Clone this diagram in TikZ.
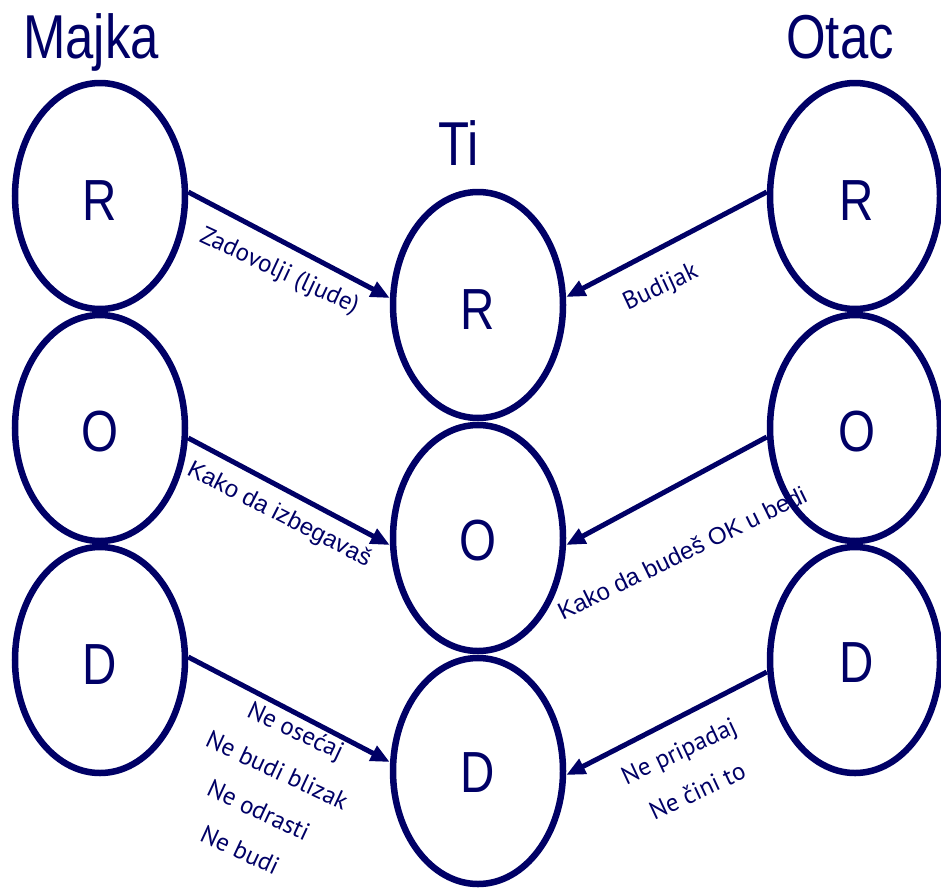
\documentclass[tikz,border=0pt]{standalone}
\usepackage{fontspec}
\setmainfont{Liberation Sans}
\newfontfamily\titlefont[FakeStretch=0.82]{Liberation Sans}
\newfontfamily\humfont{PT Sans}
\usetikzlibrary{shapes.geometric,arrows.meta}
\definecolor{navy}{RGB}{0,0,102}
\begin{document}
\begin{tikzpicture}[x=1pt,y=-1pt,
  ell/.style={ellipse,draw=navy,line width=6.5pt,minimum width=170pt,minimum height=226pt,inner sep=0pt},
  letter/.style={text=navy,font=\titlefont\fontsize{58}{60}\selectfont},
  title/.style={text=navy,font=\titlefont\fontsize{62}{64}\selectfont,anchor=base},
  arr/.style={draw=navy,line width=5pt,-{Triangle[length=19pt,width=16pt]}},
  lab/.style={text=navy,font=\humfont\fontsize{25}{44}\selectfont,align=center,inner sep=0pt},
  labA/.style={text=navy,font=\fontsize{24}{28}\selectfont,inner sep=0pt}]
\useasboundingbox (0,0) rectangle (941,889);
% ellipses
\node[ell] (lR) at (100,196) {};
\node[ell] (lO) at (100,428) {};
\node[ell] (lD) at (100,660) {};
\node[ell] (mR) at (478,305) {};
\node[ell] (mO) at (478,538) {};
\node[ell] (mD) at (478,771) {};
\node[ell] (rR) at (855,196) {};
\node[ell] (rO) at (855,428) {};
\node[ell] (rD) at (855,660) {};
% letters
\node[letter] (tlR) at (100,201) {R};
\node[letter] (tlO) at (100,432) {O};
\node[letter] (tlD) at (100,665) {D};
\node[letter] (tmR) at (478,310) {R};
\node[letter] (tmO) at (478,541) {O};
\node[letter] (tmD) at (478,773) {D};
\node[letter] (trR) at (857,201) {R};
\node[letter] (trO) at (857,432) {O};
\node[letter] (trD) at (857,663) {D};
% titles
\node[title] (majka) at (91,58) {Majka};
\node[title] (otac) at (840,58) {Otac};
\node[title] (ti) at (459,165) {Ti};
% arrows
\draw[arr] ([yshift=4pt]lR.east) -- ([yshift=7pt]mR.west);
\draw[arr] ([yshift=-10pt]lO.east) -- ([yshift=-7pt]mO.west);
\draw[arr] ([yshift=3pt]lD.east) -- ([yshift=9pt]mD.west);
\draw[arr] ([yshift=4pt]rR.west) -- ([yshift=8pt]mR.east);
\draw[arr] ([yshift=-9pt]rO.west) -- ([yshift=-7pt]mO.east);
\draw[arr] ([yshift=-12pt]rD.west) -- ([yshift=-4pt]mD.east);
% labels
\node[lab,rotate=-25] (l1) at (279,272) {Zadovolji (ljude)};
\node[lab,rotate=25] (l2) at (661,288) {Budijak};
\node[labA,rotate=-27] (l3) at (279,515) {Kako da izbegavaš};
\node[labA,rotate=26] (l4) at (682,553) {Kako da budeš OK u bedi};
\node[lab,rotate=-25] (l5) at (268,790) {Ne osećaj\\Ne budi blizak\\Ne odrasti\\Ne budi};
\node[lab,rotate=25] (l6) at (688,771) {Ne pripadaj\\Ne čini to};
\end{tikzpicture}
\end{document}
